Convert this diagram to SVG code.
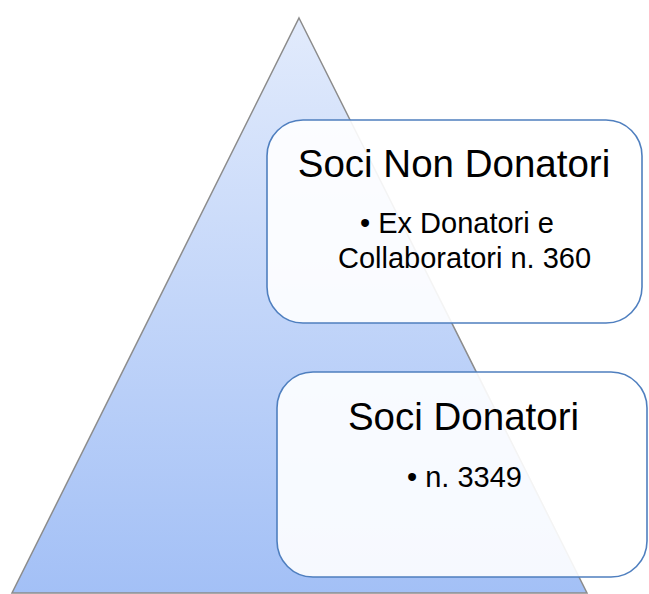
<svg xmlns="http://www.w3.org/2000/svg" width="649" height="594" viewBox="0 0 649 594">
<defs>
<linearGradient id="tri" x1="0" y1="0" x2="0" y2="1">
<stop offset="0" stop-color="#e2ebfc"/>
<stop offset="1" stop-color="#a3c0f6"/>
</linearGradient>
<style>
.box{fill:#ffffff;fill-opacity:0.9;stroke:#4f7fbf;stroke-width:1.6}
.title{font-family:"Liberation Sans",Arial,sans-serif;font-size:38.5px;fill:#000}
.item{font-family:"Liberation Sans",Arial,sans-serif;font-size:29px;fill:#000}
</style>
</defs>
<rect width="649" height="594" fill="#ffffff"/>
<g id="pyramid">
<polygon points="299,18 587,593 12,593" fill="url(#tri)" stroke="#8c8c8c" stroke-width="1.5"/>
</g>
<g id="connectors"></g>
<g id="soci-non-donatori">
<rect class="box" x="267" y="120" width="375" height="203" rx="36" ry="36"/>
<text class="title" x="454" y="177" text-anchor="middle">Soci Non Donatori</text>
<text class="item" x="360" y="233">• Ex Donatori e</text>
<text class="item" x="338" y="268">Collaboratori n. 360</text>
</g>
<g id="soci-donatori">
<rect class="box" x="277" y="372" width="370" height="205" rx="36" ry="36"/>
<text class="title" x="463.5" y="430" text-anchor="middle">Soci Donatori</text>
<text class="item" x="407" y="487">• n. 3349</text>
</g>
</svg>
